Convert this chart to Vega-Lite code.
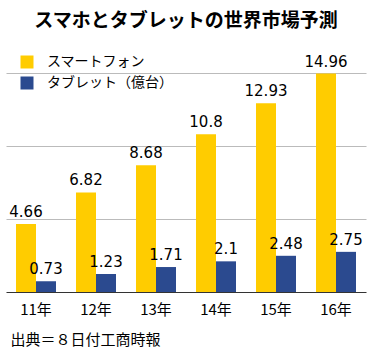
{
  "$schema": "https://vega.github.io/schema/vega-lite/v6.json",
  "width": 360,
  "height": 219,
  "autosize": "none",
  "padding": {"left": 6, "top": 73, "right": 15, "bottom": 72},
  "background": "white",
  "config": {
    "view": {"stroke": null},
    "font": "Noto Sans CJK JP"
  },
  "title": {
    "text": "スマホとタブレットの世界市場予測",
    "fontSize": 19,
    "fontWeight": "bold",
    "font": "Noto Sans CJK JP",
    "color": "#000",
    "anchor": "middle",
    "frame": "group",
    "offset": 24
  },
  "data": {
    "values": [
      {"year": "11年", "series": "スマートフォン", "value": 4.66, "label": "4.66"},
      {"year": "11年", "series": "タブレット（億台）", "value": 0.73, "label": "0.73"},
      {"year": "12年", "series": "スマートフォン", "value": 6.82, "label": "6.82"},
      {"year": "12年", "series": "タブレット（億台）", "value": 1.23, "label": "1.23"},
      {"year": "13年", "series": "スマートフォン", "value": 8.68, "label": "8.68"},
      {"year": "13年", "series": "タブレット（億台）", "value": 1.71, "label": "1.71"},
      {"year": "14年", "series": "スマートフォン", "value": 10.8, "label": "10.8"},
      {"year": "14年", "series": "タブレット（億台）", "value": 2.1, "label": "2.1"},
      {"year": "15年", "series": "スマートフォン", "value": 12.93, "label": "12.93"},
      {"year": "15年", "series": "タブレット（億台）", "value": 2.48, "label": "2.48"},
      {"year": "16年", "series": "スマートフォン", "value": 14.96, "label": "14.96"},
      {"year": "16年", "series": "タブレット（億台）", "value": 2.75, "label": "2.75"}
    ]
  },
  "encoding": {
    "x": {
      "field": "year",
      "type": "nominal",
      "scale": {"paddingInner": 0.3333, "paddingOuter": 0.1667},
      "axis": {
        "labelAngle": 0,
        "labelFontSize": 15,
        "labelColor": "#000",
        "labelPadding": 10,
        "ticks": false,
        "domainColor": "#333",
        "domainWidth": 1.2,
        "title": "出典＝８日付工商時報",
        "titleFontSize": 15,
        "titleFontWeight": "normal",
        "titleColor": "#000",
        "titleAnchor": "start",
        "titleAlign": "left",
        "titleBaseline": "alphabetic",
        "titleX": 4,
        "titleY": 52
      }
    },
    "xOffset": {
      "field": "series",
      "type": "nominal",
      "sort": ["スマートフォン", "タブレット（億台）"],
      "scale": {"paddingInner": 0, "paddingOuter": 0}
    },
    "y": {
      "field": "value",
      "type": "quantitative",
      "scale": {"domain": [0, 15], "nice": false},
      "axis": {
        "values": [5, 10, 15],
        "grid": true,
        "gridColor": "#bbbbbb",
        "gridWidth": 1,
        "labels": false,
        "ticks": false,
        "domain": false,
        "title": null
      }
    }
  },
  "layer": [
    {
      "mark": {"type": "bar"},
      "encoding": {
        "color": {
          "field": "series",
          "type": "nominal",
          "scale": {
            "domain": ["スマートフォン", "タブレット（億台）"],
            "range": ["#FFCC00", "#2B4A8F"]
          },
          "legend": {
            "orient": "none",
            "legendX": 14,
            "legendY": -18,
            "title": null,
            "symbolType": "square",
            "symbolSize": 169,
            "symbolStrokeWidth": 0,
            "symbolOpacity": 1,
            "labelFontSize": 14,
            "labelColor": "#000",
            "labelOffset": 13,
            "rowPadding": 7,
            "labelLimit": 300
          }
        }
      }
    },
    {
      "mark": {
        "type": "text",
        "baseline": "alphabetic",
        "dy": -7,
        "fontSize": 15,
        "font": "DejaVu Sans",
        "color": "#000"
      },
      "encoding": {
        "text": {"field": "label", "type": "nominal"}
      }
    }
  ]
}
